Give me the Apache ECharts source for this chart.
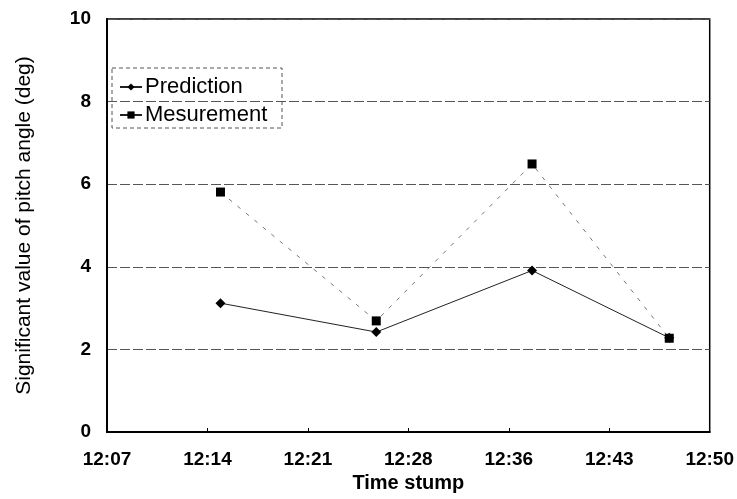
<!DOCTYPE html>
<html>
<head>
<meta charset="utf-8">
<script src="https://cdn.jsdelivr.net/npm/echarts@6/dist/echarts.min.js"></script>
<style>
  html, body { margin: 0; padding: 0; background: #fff; }
  #chart { width: 737px; height: 499px; }
</style>
</head>
<body>
<div id="chart"></div>
<script>
// Sample times (h:mm:ss) and significant pitch angle values (deg)
var times = ['12:15:20', '12:26:30', '12:37:40', '12:47:30'];
var prediction = [3.12, 2.42, 3.91, 2.28];
var measurement = [5.81, 2.69, 6.49, 2.27];

// Time axis bounds and step, as clock strings
var axisStart = '12:07:12';
var axisEnd = '12:50:24';
var axisStep = 432; // seconds (7.2 min)
var yTicks = { min: 0, max: 10, step: 2 };

function toSec(t) {
  var p = t.split(':').map(Number);
  return p[0] * 3600 + p[1] * 60 + (p[2] || 0);
}
function fmt(sec) {
  var h = Math.floor(sec / 3600);
  var m = Math.floor((sec - h * 3600) / 60 + 1e-6);
  return h + ':' + (m < 10 ? '0' : '') + m;
}

var predData = times.map(function (t, i) { return [toSec(t), prediction[i]]; });
var measData = times.map(function (t, i) { return [toSec(t), measurement[i]]; });

var font = 'Liberation Sans, Arial, sans-serif';
var chart = echarts.init(document.getElementById('chart'), null, { renderer: 'canvas' });
chart.setOption({
  backgroundColor: '#fff',
  animation: false,
  grid: {
    left: 107, right: 27, top: 19, bottom: 67,
    show: true, borderColor: '#000', borderWidth: 1.5, backgroundColor: 'transparent'
  },
  legend: {
    orient: 'vertical',
    left: 114, top: 71,
    itemGap: 6,
    itemWidth: 22, itemHeight: 9,
    textStyle: { fontFamily: font, fontSize: 22, color: '#000', padding: [0, 0, 0, -2] },
    data: [
      { name: 'Prediction' },
      { name: 'Mesurement', itemStyle: { color: '#000' }, lineStyle: { type: 'solid', color: '#222' } }
    ]
  },
  graphic: [{
    type: 'rect',
    shape: { x: 112, y: 68, width: 170, height: 60 },
    style: { fill: 'none', stroke: '#555', lineWidth: 1, lineDash: [4, 3] },
    z: 10
  }],
  xAxis: {
    type: 'value',
    min: toSec(axisStart),
    max: toSec(axisEnd),
    interval: axisStep,
    name: 'Time stump',
    nameLocation: 'middle',
    nameGap: 38,
    nameTextStyle: { fontFamily: font, fontSize: 20, fontWeight: 'bold', color: '#000' },
    axisLine: { show: true, lineStyle: { color: '#000', width: 2 } },
    axisTick: { show: true, inside: true, length: 4, lineStyle: { color: '#000' } },
    splitLine: { show: false },
    axisLabel: {
      margin: 18,
      fontFamily: font, fontSize: 19, fontWeight: 'bold', color: '#000',
      formatter: function (v) { return fmt(v); }
    }
  },
  yAxis: {
    type: 'value',
    min: yTicks.min, max: yTicks.max, interval: yTicks.step,
    name: 'Significant value of pitch angle (deg)',
    nameLocation: 'middle',
    nameRotate: 90,
    nameGap: 72,
    nameTextStyle: { fontFamily: font, fontSize: 21, color: '#000' },
    axisLine: { show: true, lineStyle: { color: '#000', width: 2 } },
    axisTick: { show: false },
    axisLabel: {
      margin: 16,
      fontFamily: font, fontSize: 19, fontWeight: 'bold', color: '#000'
    },
    splitLine: { show: true, lineStyle: { color: '#555', width: 1, type: [10, 3] } }
  },
  series: [
    {
      name: 'Prediction',
      type: 'line',
      data: predData,
      symbol: 'diamond',
      symbolSize: 10,
      itemStyle: { color: '#000' },
      lineStyle: { color: '#222', width: 1 },
      z: 3
    },
    {
      name: 'Mesurement',
      type: 'line',
      data: measData,
      symbol: 'rect',
      symbolSize: 9,
      itemStyle: { color: '#000' },
      lineStyle: { color: '#777', width: 1, type: [4, 7] },
      z: 2
    }
  ]
});
</script>
</body>
</html>
